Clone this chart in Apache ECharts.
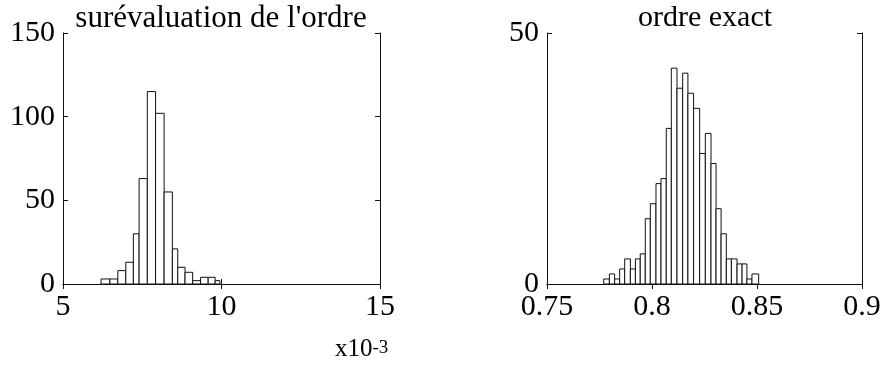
<!DOCTYPE html>
<html>
<head>
<meta charset="utf-8">
<script src="https://cdn.jsdelivr.net/npm/echarts@6/dist/echarts.min.js"></script>
<style>
  html, body { margin: 0; padding: 0; background: #fff; }
  #main { width: 884px; height: 367px; }
</style>
</head>
<body>
<div id="main"></div>
<script>
// surévaluation de l'ordre (x en unités de 1e-3)
const surEdges = [6.20, 6.48, 6.73, 6.98, 7.22, 7.40, 7.66, 7.92, 8.19, 8.45, 8.62, 8.85, 9.09, 9.34, 9.58, 9.80, 9.95];
const surCounts = [3, 3, 8, 13, 30, 63, 115, 102, 55, 21, 10, 7, 2, 4, 4, 2];

// ordre exact
const exactEdges = [0.7770, 0.7797, 0.7822, 0.7846, 0.7870, 0.7897, 0.7921, 0.7944, 0.7968, 0.7992,
  0.8019, 0.8043, 0.8068, 0.8092, 0.8119, 0.8146, 0.8171, 0.8198, 0.8227, 0.8254,
  0.8281, 0.8305, 0.8329, 0.8354, 0.8378, 0.8405, 0.8429, 0.8452, 0.8476, 0.8508];
const exactCounts = [1, 2, 1, 3, 5, 3, 5, 6, 13, 16, 20, 21, 31, 43, 39, 42, 38, 35, 26, 30, 24, 15, 10, 5, 5, 4, 4, 1, 2];

const titles = ["surévaluation de l'ordre", 'ordre exact'];

const FONT = 'Liberation Serif';
const INK = '#111';

function bins(edges, counts) {
  return counts.map((c, i) => [edges[i], edges[i + 1], c]);
}

function xAxes(grid, min, max, interval) {
  const base = {
    gridIndex: grid, type: 'value', min: min, max: max, interval: interval,
    splitLine: { show: false },
    axisLine: { show: true, lineStyle: { color: INK, width: 1 } },
    axisTick: { show: true, inside: true, length: 5, lineStyle: { color: INK } }
  };
  return [
    Object.assign({}, base, {
      position: 'bottom',
      axisLabel: { show: true, color: '#000', fontFamily: FONT, fontSize: 30, margin: 8 }
    }),
    Object.assign({}, base, { position: 'top', axisLabel: { show: false } })
  ];
}

function yAxes(grid, min, max, interval) {
  const base = {
    gridIndex: grid, type: 'value', min: min, max: max, interval: interval,
    splitLine: { show: false },
    axisLine: { show: true, lineStyle: { color: INK, width: 1 } },
    axisTick: { show: true, inside: true, length: 5, lineStyle: { color: INK } }
  };
  return [
    Object.assign({}, base, {
      position: 'left',
      axisLabel: { show: true, color: '#000', fontFamily: FONT, fontSize: 30, margin: 8 }
    }),
    Object.assign({}, base, { position: 'right', axisLabel: { show: false } })
  ];
}

function histo(data, xi, yi) {
  return {
    type: 'custom',
    xAxisIndex: xi,
    yAxisIndex: yi,
    silent: true,
    clip: true,
    data: data,
    encode: { x: [0, 1], y: 2 },
    renderItem: function (params, api) {
      const p0 = api.coord([api.value(0), api.value(2)]);
      const p1 = api.coord([api.value(1), 0]);
      return {
        type: 'rect',
        shape: { x: p0[0], y: p0[1], width: p1[0] - p0[0], height: p1[1] - p0[1] },
        style: { fill: '#fff', stroke: INK, lineWidth: 1 }
      };
    }
  };
}

const chart = echarts.init(document.getElementById('main'));

chart.setOption({
  animation: false,
  backgroundColor: '#fff',
  title: [
    { text: titles[0], left: 221, top: 3, textAlign: 'center', padding: 0,
      textStyle: { fontFamily: FONT, fontSize: 31, fontWeight: 'normal', color: '#000' } },
    { text: titles[1], left: 705, top: 3, textAlign: 'center', padding: 0,
      textStyle: { fontFamily: FONT, fontSize: 30, fontWeight: 'normal', color: '#000' } }
  ],
  grid: [
    { left: 63, top: 33, width: 317, height: 251 },
    { left: 547, top: 33, width: 315, height: 251 }
  ],
  xAxis: xAxes(0, 5, 15, 5).concat(xAxes(1, 0.75, 0.9, 0.05)),
  yAxis: yAxes(0, 0, 150, 50).concat(yAxes(1, 0, 50, 50)),
  series: [
    histo(bins(surEdges, surCounts), 0, 0),
    histo(bins(exactEdges, exactCounts), 2, 2)
  ],
  graphic: [
    {
      type: 'text', left: 335, top: 337, silent: true,
      style: {
        text: '{a|x10}{b|-3}',
        rich: {
          a: { fontFamily: FONT, fontSize: 25, fill: '#000' },
          b: { fontFamily: FONT, fontSize: 19, fill: '#000', padding: [0, 0, 2, 0] }
        }
      }
    }
  ]
});
</script>
</body>
</html>
